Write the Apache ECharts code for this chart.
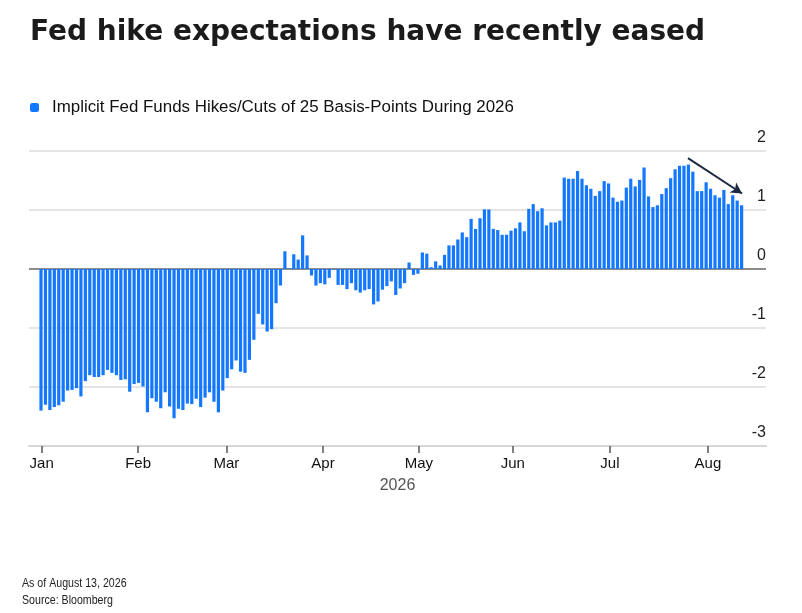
<!DOCTYPE html>
<html>
<head>
<meta charset="utf-8">
<title>Fed hike expectations have recently eased</title>
<script src="https://cdn.jsdelivr.net/npm/echarts@6/dist/echarts.min.js"></script>
<style>
  html, body { margin: 0; padding: 0; background: #fff; }
  #chart { width: 802px; height: 613px; }
</style>
</head>
<body>
<div id="chart"></div>
<script>
// implied number of 25bp hikes/cuts priced for 2026, one bar per trading day (Jan 1 .. Aug 13)
var hikesCuts = [
  -2.40, -2.30, -2.39, -2.34, -2.31, -2.25, -2.06, -2.05, -2.02, -2.16,
  -1.90, -1.80, -1.83, -1.83, -1.80, -1.71, -1.76, -1.80, -1.88, -1.87,
  -2.08, -1.95, -1.93, -1.99, -2.43, -2.19, -2.25, -2.36, -2.09, -2.33,
  -2.53, -2.37, -2.39, -2.28, -2.29, -2.20, -2.34, -2.18, -2.09, -2.25,
  -2.43, -2.06, -1.85, -1.70, -1.55, -1.74, -1.76, -1.54, -1.20, -0.76,
  -0.94, -1.06, -1.02, -0.58, -0.28, 0.30, 0.01, 0.25, 0.16, 0.57,
  0.23, -0.11, -0.28, -0.24, -0.26, -0.15, -0.01, -0.27, -0.27, -0.34,
  -0.24, -0.36, -0.40, -0.36, -0.34, -0.60, -0.55, -0.35, -0.29, -0.21,
  -0.44, -0.33, -0.24, 0.11, -0.10, -0.08, 0.28, 0.26, 0.03, 0.13,
  0.06, 0.24, 0.40, 0.40, 0.50, 0.62, 0.54, 0.85, 0.68, 0.86,
  1.01, 1.01, 0.68, 0.66, 0.58, 0.58, 0.65, 0.69, 0.79, 0.64,
  1.02, 1.10, 0.98, 1.03, 0.74, 0.79, 0.79, 0.82, 1.55, 1.53,
  1.53, 1.66, 1.53, 1.42, 1.36, 1.24, 1.32, 1.49, 1.45, 1.21,
  1.14, 1.16, 1.38, 1.53, 1.40, 1.51, 1.72, 1.23, 1.05, 1.08,
  1.27, 1.37, 1.54, 1.69, 1.75, 1.75, 1.77, 1.65, 1.32, 1.32,
  1.47, 1.36, 1.25, 1.21, 1.34, 1.10, 1.25, 1.16, 1.08
];

// month tick positions, in bar units
var monthNames = ['Jan', 'Feb', 'Mar', 'Apr', 'May', 'Jun', 'Jul', 'Aug'];
var monthTicks = [0.15, 21.9, 41.8, 63.6, 85.2, 106.4, 128.3, 150.4];

var yTicks = [-3, -2, -1, 0, 1, 2];

// arrow annotation: [bar position, value]
var arrowFrom = [145.9, 1.88];
var arrowTo = [158.1, 1.28];

var chart = echarts.init(document.getElementById('chart'));

var barData = hikesCuts.map(function (v, i) {
  return [i, v];
});

var option = {
  animation: false,
  backgroundColor: '#ffffff',
  title: {
    text: 'Fed hike expectations have recently eased',
    left: 25,
    top: 14,
    textStyle: {
      fontFamily: 'DejaVu Sans',
      fontWeight: 'bold',
      fontSize: 28,
      color: '#1b1b1b'
    }
  },
  legend: {
    left: 25,
    top: 94,
    icon: 'roundRect',
    itemWidth: 9,
    itemHeight: 9,
    textStyle: {
      fontFamily: 'Liberation Sans',
      fontSize: 16.9,
      color: '#111',
      padding: [0, 0, 0, 8]
    },
    data: ['Implicit Fed Funds Hikes/Cuts of 25 Basis-Points During 2026']
  },
  grid: {
    left: 29,
    right: 36,
    top: 151,
    bottom: 167
  },
  xAxis: {
    type: 'value',
    min: -2.71,
    max: 163.5,
    name: '2026',
    nameLocation: 'middle',
    nameGap: 32,
    nameTextStyle: {
      fontFamily: 'Liberation Sans',
      fontSize: 16,
      color: '#555'
    },
    axisLine: {
      onZero: false,
      lineStyle: { color: '#d6d6d6', width: 2 }
    },
    axisTick: {
      show: true,
      length: 7,
      customValues: monthTicks,
      lineStyle: { color: '#555', width: 1.5 }
    },
    axisLabel: {
      customValues: monthTicks,
      margin: 10,
      fontFamily: 'Liberation Sans',
      fontSize: 15,
      color: '#111',
      formatter: function (val) {
        var best = 0;
        for (var k = 0; k < monthTicks.length; k++) {
          if (Math.abs(monthTicks[k] - val) < Math.abs(monthTicks[best] - val)) best = k;
        }
        return monthNames[best];
      }
    },
    splitLine: { show: false }
  },
  yAxis: {
    type: 'value',
    position: 'right',
    min: yTicks[0],
    max: yTicks[yTicks.length - 1],
    interval: 1,
    axisLine: { show: false },
    axisTick: { show: false },
    axisLabel: {
      inside: true,
      margin: 0,
      align: 'right',
      verticalAlign: 'bottom',
      padding: [0, 0, 5, 0],
      fontFamily: 'Liberation Sans',
      fontSize: 16,
      color: '#222'
    },
    splitLine: {
      lineStyle: {
        color: ['#dcdcdc', '#dcdcdc', '#dcdcdc', '#666666', '#dcdcdc', '#dcdcdc'],
        width: 1.5
      }
    }
  },
  series: [
    {
      name: 'Implicit Fed Funds Hikes/Cuts of 25 Basis-Points During 2026',
      type: 'bar',
      barWidth: 3.2,
      itemStyle: { color: '#1477ff' },
      data: barData,
      markLine: {
        silent: true,
        symbol: ['none', 'arrow'],
        symbolSize: [9, 11],
        label: { show: false },
        lineStyle: { color: '#1d2a42', width: 2, type: 'solid' },
        data: [
          [
            { coord: arrowFrom },
            { coord: arrowTo }
          ]
        ]
      }
    }
  ],
  graphic: [
    {
      type: 'text',
      x: 22,
      y: 577,
      scaleX: 0.85,
      style: {
        text: 'As of August 13, 2026',
        font: '12.5px "Liberation Sans"',
        fill: '#222'
      }
    },
    {
      type: 'text',
      x: 22,
      y: 594,
      scaleX: 0.85,
      style: {
        text: 'Source: Bloomberg',
        font: '12.5px "Liberation Sans"',
        fill: '#222'
      }
    }
  ]
};

chart.setOption(option);
</script>
</body>
</html>
